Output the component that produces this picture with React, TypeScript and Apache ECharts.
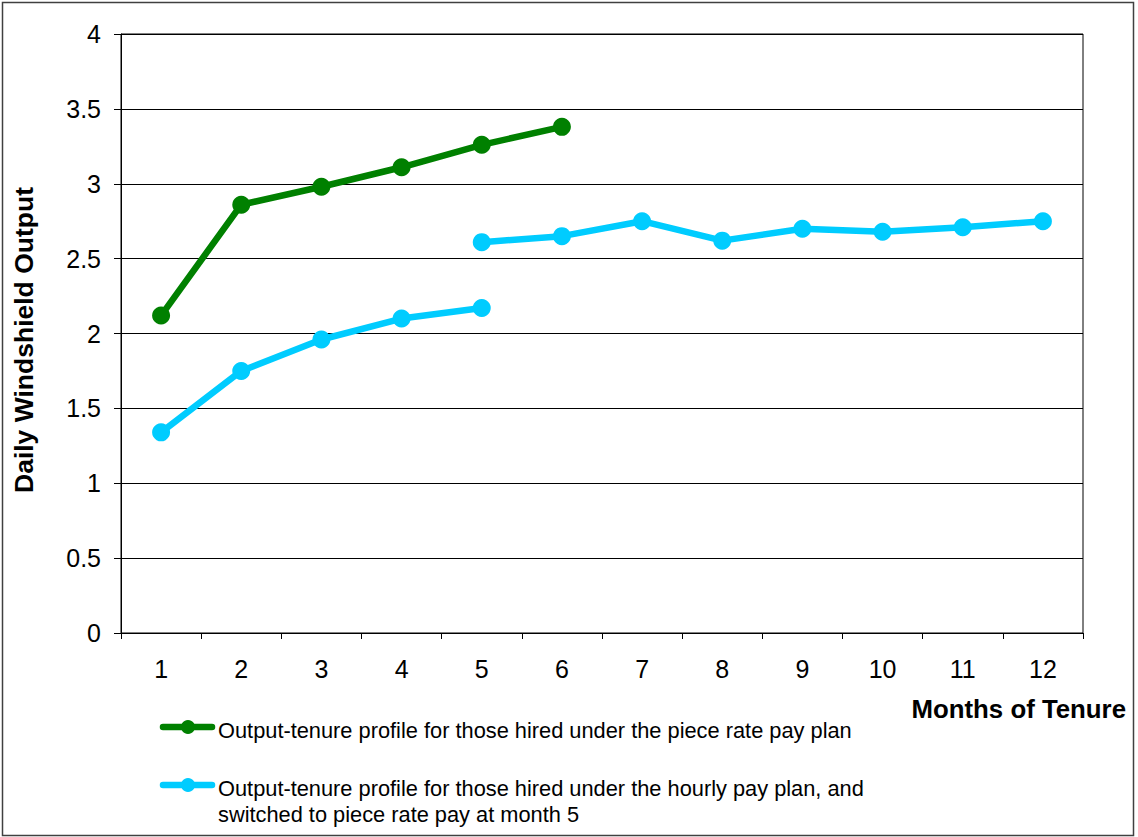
import React, { useEffect, useRef } from "react";
import * as echarts from "echarts";

const months = ["1", "2", "3", "4", "5", "6", "7", "8", "9", "10", "11", "12"];
const yTicks = { min: 0, max: 4, interval: 0.5 };
const yTitle = "Daily Windshield Output";
const xTitle = "Months of Tenure";
const pieceRateName = "Output-tenure profile for those hired under the piece rate pay plan";
const hourlyName =
  "Output-tenure profile for those hired under the hourly pay plan, and\nswitched to piece rate pay at month 5";
const pieceRate = [2.12, 2.86, 2.98, 3.11, 3.26, 3.38, null, null, null, null, null, null];
const hourlyBefore = [1.34, 1.75, 1.96, 2.1, 2.17, null, null, null, null, null, null, null];
const hourlyAfter = [null, null, null, null, 2.61, 2.65, 2.75, 2.62, 2.7, 2.68, 2.71, 2.75];

const GREEN = "#008000";
const CYAN = "#00CCFF";
const FONT = "'Liberation Sans', Arial, sans-serif";

export default function App() {
  const ref = useRef<HTMLDivElement>(null);
  useEffect(() => {
    if (!ref.current) return;
    const chart = echarts.init(ref.current, undefined, { renderer: "svg" });
    const lineSeries = (name: string, data: (number | null)[], color: string) => ({
      type: "line",
      name,
      data,
      connectNulls: false,
      symbol: "circle",
      symbolSize: 18,
      showAllSymbol: true,
      lineStyle: { color, width: 6.5 },
      itemStyle: { color },
      z: 3,
    });
    const legendItem = (y: number, color: string, text: string) => ({
      type: "group",
      children: [
        {
          type: "line",
          shape: { x1: 163, y1: y, x2: 212, y2: y },
          style: { stroke: color, lineWidth: 6.5, lineCap: "round" },
        },
        { type: "circle", shape: { cx: 188, cy: y, r: 7 }, style: { fill: color } },
        {
          type: "text",
          x: 218,
          y: y - 10,
          style: {
            text,
            fill: "#000",
            font: `21.8px ${FONT}`,
            verticalAlign: "top",
            lineHeight: 26,
          },
        },
      ],
    });
    chart.setOption({
      animation: false,
      backgroundColor: "#fff",
      textStyle: { fontFamily: FONT },
      grid: {
        left: 121,
        right: 55,
        top: 34,
        bottom: 204,
        show: true,
        borderColor: "#000",
        borderWidth: 1,
      },
      xAxis: {
        type: "category",
        data: months,
        boundaryGap: true,
        axisLine: { lineStyle: { color: "#000", width: 1 } },
        axisTick: { show: true, length: 6, lineStyle: { color: "#000" } },
        axisLabel: { fontSize: 25, color: "#000", margin: 23, fontFamily: FONT },
        splitLine: { show: false },
      },
      yAxis: {
        type: "value",
        min: yTicks.min,
        max: yTicks.max,
        interval: yTicks.interval,
        axisLine: { show: true, lineStyle: { color: "#000", width: 1 } },
        axisTick: { show: true, length: 7, lineStyle: { color: "#000" } },
        axisLabel: { fontSize: 25, color: "#000", margin: 20, fontFamily: FONT },
        splitLine: { show: true, lineStyle: { color: "#000", width: 1 } },
      },
      series: [
        lineSeries(pieceRateName, pieceRate, GREEN),
        lineSeries(hourlyName, hourlyBefore, CYAN),
        lineSeries(hourlyName, hourlyAfter, CYAN),
      ],
      graphic: [
        {
          type: "rect",
          shape: { x: 2.5, y: 2.5, width: 1131, height: 833 },
          style: { fill: "none", stroke: "#404040", lineWidth: 1.5 },
          silent: true,
        },
        {
          type: "text",
          x: 24,
          y: 340,
          rotation: Math.PI / 2,
          style: {
            text: yTitle,
            fill: "#000",
            font: `bold 26.5px ${FONT}`,
            align: "center",
            verticalAlign: "middle",
          },
        },
        {
          type: "text",
          x: 1126,
          y: 709,
          style: {
            text: xTitle,
            fill: "#000",
            font: `bold 25.8px ${FONT}`,
            align: "right",
            verticalAlign: "middle",
          },
        },
        legendItem(727, GREEN, pieceRateName),
        legendItem(785, CYAN, hourlyName),
      ],
    });
    return () => chart.dispose();
  }, []);
  return (
    <div
      ref={ref}
      style={{ position: "fixed", left: 0, top: 0, width: 1138, height: 837, background: "#fff" }}
    />
  );
}
